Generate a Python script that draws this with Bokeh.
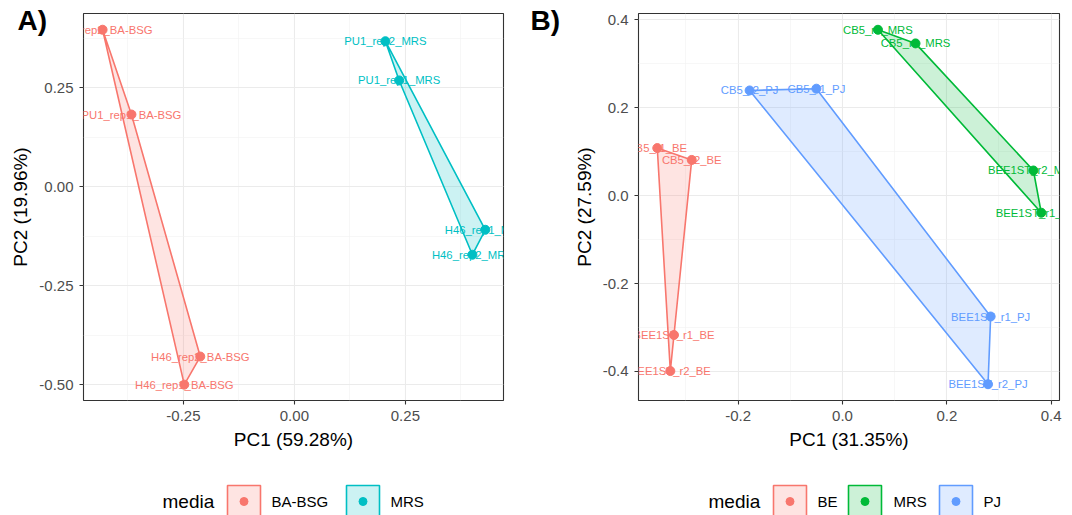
import numpy as np
from bokeh.plotting import figure
from bokeh.models import Range1d, FixedTicker, NumeralTickFormatter
from bokeh.layouts import row, column
from bokeh.embed import file_html
from bokeh.resources import INLINE
from bokeh.core.properties import value

FONT = "Liberation Sans"

# ---------------- Panel A data ----------------
a_groups = ["BA-BSG", "MRS"]
a_colors = ["#F8766D", "#00BFC4"]
a_bsg_x = [-0.432, -0.367, -0.212, -0.248]
a_bsg_y = [0.396, 0.182, -0.429, -0.500]
a_bsg_lab = ["PU1_rep2_BA-BSG", "PU1_rep1_BA-BSG", "H46_rep2_BA-BSG", "H46_rep1_BA-BSG"]
a_mrs_x = [0.205, 0.236, 0.430, 0.401]
a_mrs_y = [0.367, 0.268, -0.109, -0.172]
a_mrs_lab = ["PU1_rep2_MRS", "PU1_rep1_MRS", "H46_rep1_MRS", "H46_rep2_MRS"]
a_xticks = [-0.25, 0.0, 0.25]
a_yticks = [-0.50, -0.25, 0.0, 0.25]
a_xlabel = "PC1 (59.28%)"
a_ylabel = "PC2 (19.96%)"

# ---------------- Panel B data ----------------
b_groups = ["BE", "MRS", "PJ"]
b_colors = ["#F8766D", "#00BA38", "#619CFF"]
b_be_x = [-0.355, -0.289, -0.323, -0.330]
b_be_y = [0.108, 0.081, -0.317, -0.399]
b_be_lab = ["CB5_r1_BE", "CB5_r2_BE", "BEE1ST_r1_BE", "BEE1ST_r2_BE"]
b_mrs_x = [0.068, 0.140, 0.366, 0.381]
b_mrs_y = [0.377, 0.346, 0.057, -0.039]
b_mrs_lab = ["CB5_r1_MRS", "CB5_r2_MRS", "BEE1ST_r2_MRS", "BEE1ST_r1_MRS"]
b_pj_x = [-0.178, -0.050, 0.284, 0.279]
b_pj_y = [0.239, 0.243, -0.275, -0.429]
b_pj_lab = ["CB5_r2_PJ", "CB5_r1_PJ", "BEE1ST_r1_PJ", "BEE1ST_r2_PJ"]
b_xticks = [-0.2, 0.0, 0.2, 0.4]
b_yticks = [-0.4, -0.2, 0.0, 0.2, 0.4]
b_xlabel = "PC1 (31.35%)"
b_ylabel = "PC2 (27.59%)"

legend_title = "media"


def hull(xs, ys):
    pts = sorted(set(zip(xs, ys)))
    if len(pts) <= 2:
        return [p[0] for p in pts], [p[1] for p in pts]

    def cross(o, a, b):
        return (a[0] - o[0]) * (b[1] - o[1]) - (a[1] - o[1]) * (b[0] - o[0])
    lower, upper = [], []
    for p in pts:
        while len(lower) >= 2 and cross(lower[-2], lower[-1], p) <= 0:
            lower.pop()
        lower.append(p)
    for p in reversed(pts):
        while len(upper) >= 2 and cross(upper[-2], upper[-1], p) <= 0:
            upper.pop()
        upper.append(p)
    h = lower[:-1] + upper[:-1]
    return [p[0] for p in h], [p[1] for p in h]


def midpoints(t):
    step = t[1] - t[0]
    return [t[0] - step / 2] + [a + step / 2 for a in t]


PANEL_H = 460
LEG_H = 55


def make_panel(width, bl, br, xr, yr, xticks, yticks, fmt, xlabel, ylabel,
               groups, colors, tag, tag_dx):
    p = figure(width=width, height=PANEL_H, output_backend="svg", toolbar_location=None,
               x_range=Range1d(*xr), y_range=Range1d(*yr), title=tag,
               min_border_left=bl, min_border_right=br, min_border_top=13,
               min_border_bottom=60)
    p.background_fill_color = "white"
    p.border_fill_color = "white"
    p.outline_line_color = "#333333"
    p.outline_line_width = 1.1

    p.title.text_font = FONT
    p.title.text_font_size = "28px"
    p.title.text_font_style = "bold"
    p.title.text_color = "black"
    p.title.align = "left"
    p.title.offset = tag_dx
    p.title.standoff = -45

    for ax, ticks, lab in ((p.xaxis[0], xticks, xlabel), (p.yaxis[0], yticks, ylabel)):
        ax.ticker = FixedTicker(ticks=ticks, minor_ticks=midpoints(ticks))
        ax.formatter = NumeralTickFormatter(format=fmt)
        ax.axis_line_color = None
        ax.major_tick_line_color = "#333333"
        ax.major_tick_line_width = 1.1
        ax.major_tick_out = 4
        ax.major_tick_in = 0
        ax.minor_tick_line_color = None
        ax.major_label_text_font = FONT
        ax.major_label_text_font_size = "15px"
        ax.major_label_text_color = "#4D4D4D"
        ax.major_label_standoff = 6
        ax.axis_label = lab
        ax.axis_label_text_font = FONT
        ax.axis_label_text_font_size = "19px"
        ax.axis_label_text_font_style = "normal"
        ax.axis_label_text_color = "black"
        ax.axis_label_standoff = 5

    for g in (p.xgrid[0], p.ygrid[0]):
        g.grid_line_color = "#EBEBEB"
        g.grid_line_width = 1.1
        g.minor_grid_line_color = "#F2F2F2"
        g.minor_grid_line_width = 0.6

    for (name, xs, ys, labs), col in zip(groups, colors):
        hx, hy = hull(xs, ys)
        p.patch(hx, hy, fill_color=col, fill_alpha=0.2, line_color=col, line_width=1.6)
        p.text(xs, ys, text=labs, text_align="center", text_baseline="middle",
               text_font=value(FONT), text_font_size="11.3px", text_color=col)
        p.scatter(xs, ys, size=9, fill_color=col, line_color=col)
    return p


def make_legend(width, frame_left, frame_right, names, colors, title_x, key_lefts, label_lefts):
    # legend strip below a panel; the strip's frame is aligned with the panel frame,
    # so its x range is given in page pixels spanning that frame
    lg = figure(width=width, height=LEG_H, output_backend="svg", toolbar_location=None,
                x_range=Range1d(frame_left, frame_right), y_range=Range1d(LEG_H, 0),
                x_axis_type=None, y_axis_type=None,
                min_border=0, min_border_left=0, min_border_right=0,
                min_border_top=0, min_border_bottom=0)
    lg.outline_line_color = None
    lg.background_fill_color = "white"
    lg.border_fill_color = "white"
    lg.grid.visible = False
    top, bottom = 25, 57
    yc = 41
    kw = 33
    lg.text([title_x], [yc], text=[legend_title], text_font=value(FONT),
            text_font_size="19px", text_baseline="middle", text_color="black")
    lg.quad(left=key_lefts, right=[k + kw for k in key_lefts],
            top=[top] * len(names), bottom=[bottom] * len(names),
            fill_color=colors, fill_alpha=0.2, line_color=colors, line_width=1.6)
    lg.scatter([k + kw / 2 for k in key_lefts], [yc] * len(names), size=8,
               fill_color=colors, line_color=colors)
    lg.text(label_lefts, [yc] * len(names), text=names, text_font=value(FONT),
            text_font_size="15px", text_baseline="middle", text_color="black")
    return lg


A_W, A_BL, A_BR = 528, 83, 25
B_W, B_BL, B_BR = 544, 110, 13

pa = make_panel(A_W, A_BL, A_BR, (-0.475, 0.471), (-0.540, 0.437), a_xticks, a_yticks,
                "0.00", a_xlabel, a_ylabel,
                [(a_groups[0], a_bsg_x, a_bsg_y, a_bsg_lab),
                 (a_groups[1], a_mrs_x, a_mrs_y, a_mrs_lab)],
                a_colors, "A)", -66)

pb = make_panel(B_W, B_BL, B_BR, (-0.391, 0.416), (-0.466, 0.414), b_xticks, b_yticks,
                "0.0", b_xlabel, b_ylabel,
                [(b_groups[0], b_be_x, b_be_y, b_be_lab),
                 (b_groups[1], b_mrs_x, b_mrs_y, b_mrs_lab),
                 (b_groups[2], b_pj_x, b_pj_y, b_pj_lab)],
                b_colors, "B)", -108)

la = make_legend(A_W, A_BL, A_W - A_BR, a_groups, a_colors,
                 162, [227, 346], [271, 390])
lb = make_legend(B_W, A_W + B_BL, A_W + B_W - B_BR, b_groups, b_colors,
                 708, [773, 848, 939], [817, 893, 983])

layout = row(column(pa, la), column(pb, lb))
open("out.html", "w").write(file_html(layout, INLINE))
